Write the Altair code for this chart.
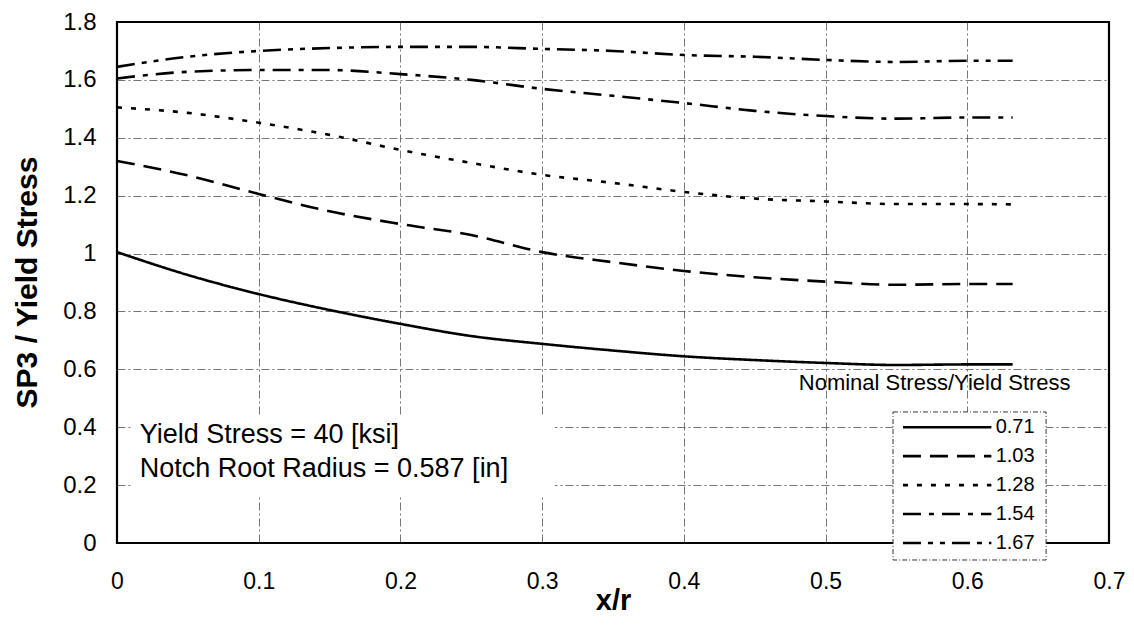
import altair as alt
import pandas as pd

FONT = "Liberation Sans"

# ---- data ----
x_vals = [0, 0.05, 0.1, 0.15, 0.2, 0.25, 0.3, 0.35, 0.4, 0.45, 0.5, 0.55, 0.6, 0.632]
series_names = ["0.71", "1.03", "1.28", "1.54", "1.67"]
s_071 = [1.005, 0.926, 0.860, 0.805, 0.757, 0.715, 0.688, 0.665, 0.645, 0.632, 0.622, 0.615, 0.617, 0.617]
s_103 = [1.320, 1.270, 1.206, 1.146, 1.102, 1.064, 1.005, 0.970, 0.940, 0.918, 0.903, 0.892, 0.895, 0.895]
s_128 = [1.505, 1.486, 1.452, 1.410, 1.358, 1.313, 1.272, 1.244, 1.213, 1.190, 1.180, 1.171, 1.171, 1.170]
s_154 = [1.605, 1.628, 1.634, 1.634, 1.620, 1.600, 1.569, 1.545, 1.520, 1.493, 1.475, 1.466, 1.470, 1.470]
s_167 = [1.645, 1.680, 1.700, 1.710, 1.714, 1.714, 1.707, 1.700, 1.686, 1.680, 1.669, 1.662, 1.666, 1.666]
dash_styles = [[1, 0], [18, 9], [5, 9], [18, 8, 5, 8], [18, 7, 5, 7, 5, 7]]

x_ticks = [0, 0.1, 0.2, 0.3, 0.4, 0.5, 0.6, 0.7]
y_ticks = [0, 0.2, 0.4, 0.6, 0.8, 1.0, 1.2, 1.4, 1.6, 1.8]
x_domain = [0, 0.7]
y_domain = [0, 1.8]

annot_lines = ["Yield Stress = 40 [ksi]", "Notch Root Radius = 0.587 [in]"]
annot_x = [0.016, 0.016]
annot_y = [0.373, 0.257]
annot_box = {"x": [0.011], "x2": [0.309], "y": [0.159], "y2": [0.435]}

legend_title = ["Nominal Stress/Yield Stress"]
legend_title_pos = [0.577, 0.553]
legend_rows_y = [0.4, 0.3, 0.2, 0.1, 0.0]
legend_line_x = [0.5546, 0.617]
legend_label_x = 0.620
legend_box = {"x": [0.5476], "x2": [0.6556], "y": [-0.0587], "y2": [0.4527]}

# ---- tables ----
all_series = [s_071, s_103, s_128, s_154, s_167]
rows = []
for name, vals in zip(series_names, all_series):
    for xv, yv in zip(x_vals, vals):
        rows.append({"x": xv, "y": yv, "series": name})
curves_df = pd.DataFrame(rows)

leg_df = pd.DataFrame({
    "series": series_names,
    "y": legend_rows_y,
    "x": [legend_line_x[0]] * 5,
    "x2": [legend_line_x[1]] * 5,
    "xl": [legend_label_x] * 5,
})
annot_df = pd.DataFrame({"x": annot_x, "y": annot_y, "text": annot_lines})
annot_box_df = pd.DataFrame(annot_box)
legend_box_df = pd.DataFrame(legend_box)
frame_df = pd.DataFrame({"x": [x_domain[0]], "x2": [x_domain[1]], "y": [y_domain[0]], "y2": [y_domain[1]]})
ltitle_df = pd.DataFrame({"x": [legend_title_pos[0]], "y": [legend_title_pos[1]], "text": legend_title})

xs = alt.Scale(domain=x_domain, nice=False, zero=False)
ys = alt.Scale(domain=y_domain, nice=False, zero=False)
dash_scale = alt.Scale(domain=series_names, range=dash_styles)

x_axis = alt.Axis(
    values=x_ticks, format="~g", title="x/r", grid=True, ticks=False, domain=False,
    labelFont=FONT, labelFontSize=23, labelColor="black", labelPadding=27,
    titleFont=FONT, titleFontSize=29, titleFontWeight="bold", titleColor="black",
    titleY=66, titleBaseline="alphabetic",
    gridColor="#555555", gridDash=[8, 3, 2, 3], gridWidth=1, gridOpacity=0.8,
    labelFlush=False, labelOverlap=False,
)
y_axis = alt.Axis(
    values=y_ticks, format="~g", title="SP3 / Yield Stress", grid=True, ticks=False, domain=False,
    labelFont=FONT, labelFontSize=24, labelColor="black", labelPadding=21,
    titleFont=FONT, titleFontSize=30, titleFontWeight="bold", titleColor="black",
    titleX=-90, titleY=260, titleAngle=270, titleAlign="center", titleBaseline="middle",
    gridColor="#555555", gridDash=[8, 3, 2, 3], gridWidth=1, gridOpacity=0.8,
    labelFlush=False, labelOverlap=False,
)


def X(field):
    return alt.X(field, type="quantitative", scale=xs, axis=x_axis)


def Y(field):
    return alt.Y(field, type="quantitative", scale=ys, axis=y_axis)


annot_bg = alt.Chart(annot_box_df).mark_rect(fill="white", strokeWidth=0).encode(
    x=X("x"), x2="x2", y=Y("y"), y2="y2",
)

curves = alt.Chart(curves_df).mark_line(color="black", strokeWidth=2.6, interpolate="monotone").encode(
    x=X("x"),
    y=Y("y"),
    strokeDash=alt.StrokeDash("series:N", scale=dash_scale, legend=None),
    detail="series:N",
)

frame = alt.Chart(frame_df).mark_rect(fillOpacity=0, stroke="black", strokeWidth=2.2).encode(
    x=X("x"), x2="x2", y=Y("y"), y2="y2",
)

legend_bg = alt.Chart(legend_box_df).mark_rect(
    fill="white", stroke="#333333", strokeWidth=1, strokeDash=[5, 2, 1, 2]
).encode(
    x=X("x"), x2="x2", y=Y("y"), y2="y2",
)

legend_lines = alt.Chart(leg_df).mark_rule(color="black", strokeWidth=2.6).encode(
    x=X("x"), x2="x2", y=Y("y"),
    strokeDash=alt.StrokeDash("series:N", scale=dash_scale, legend=None),
)

legend_text = alt.Chart(leg_df).mark_text(
    align="left", baseline="middle", font=FONT, fontSize=20, color="black"
).encode(
    x=X("xl"), y=Y("y"), text="series:N",
)

legend_title_text = alt.Chart(ltitle_df).mark_text(
    align="center", baseline="middle", font=FONT, fontSize=22, color="black"
).encode(
    x=X("x"), y=Y("y"), text="text:N",
)

annot_text = alt.Chart(annot_df).mark_text(
    align="left", baseline="middle", font=FONT, fontSize=27, color="black"
).encode(
    x=X("x"), y=Y("y"), text="text:N",
)

chart = alt.layer(
    annot_bg, curves, frame, legend_bg, legend_lines, legend_text, legend_title_text, annot_text
).properties(
    width=992,
    height=521,
    autosize=alt.AutoSizeParams(type="none"),
    padding={"left": 109, "top": 14, "right": 17, "bottom": 74},
    background="white",
).configure_view(stroke=None)

chart.save("out.html", embed_options={"renderer": "svg", "actions": False})
